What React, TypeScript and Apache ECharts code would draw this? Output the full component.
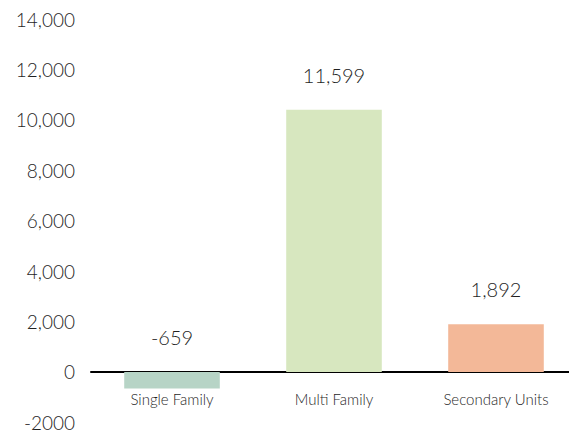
import React, { useEffect, useRef } from "react";
import * as echarts from "echarts";

const categories = ["Single Family", "Multi Family", "Secondary Units"];
const barValues = [-659, 10400, 1892];
const labelTexts = ["-659", "11,599", "1,892"];
const barColors = ["#b7d4c6", "#d7e7bf", "#f3b898"];
const yMin = -2000;
const yMax = 14000;
const yInterval = 2000;

const FONT = "Lato";
const TEXT_COLOR = "#1f1f1f";
const GRID_TOP = 19;
const GRID_BOTTOM = 11.6;
const H = 434;

export default function App() {
  const ref = useRef<HTMLDivElement>(null);
  useEffect(() => {
    document.body.style.margin = "0";
    const chart = echarts.init(ref.current!, null, { renderer: "svg" });
    const plotH = H - GRID_TOP - GRID_BOTTOM;
    const zeroOffset = (plotH * (0 - yMin)) / (yMax - yMin);
    chart.setOption({
      animation: false,
      grid: {
        left: 91,
        right: -8,
        top: GRID_TOP,
        bottom: GRID_BOTTOM,
        containLabel: false,
        outerBoundsMode: "none",
      },
      xAxis: {
        type: "category",
        data: categories,
        offset: -zeroOffset,
        axisLine: { show: true, onZero: false, lineStyle: { color: "#000", width: 2 } },
        axisTick: { show: false },
        axisLabel: {
          color: TEXT_COLOR,
          fontFamily: FONT,
          fontSize: 15,
          fontWeight: 300,
          margin: 20,
        },
      },
      yAxis: {
        type: "value",
        min: yMin,
        max: yMax,
        interval: yInterval,
        axisLine: { show: false },
        axisTick: { show: false },
        splitLine: { show: false },
        axisLabel: {
          color: TEXT_COLOR,
          fontFamily: FONT,
          fontSize: 19,
          fontWeight: 300,
          margin: 16,
          formatter: (v: number) => (v < 0 ? String(v) : v.toLocaleString("en-US")),
        },
      },
      series: [
        {
          type: "bar",
          barWidth: "59%",
          data: barValues.map((v, i) => ({
            value: v,
            itemStyle: { color: barColors[i] },
          })),
          label: {
            show: true,
            position: "top",
            distance: 25,
            color: TEXT_COLOR,
            fontFamily: FONT,
            fontSize: 20,
            fontWeight: 300,
            formatter: (p: any) => labelTexts[p.dataIndex],
          },
        },
      ],
    });
    return () => chart.dispose();
  }, []);
  return <div ref={ref} style={{ width: 569, height: 434 }} />;
}
